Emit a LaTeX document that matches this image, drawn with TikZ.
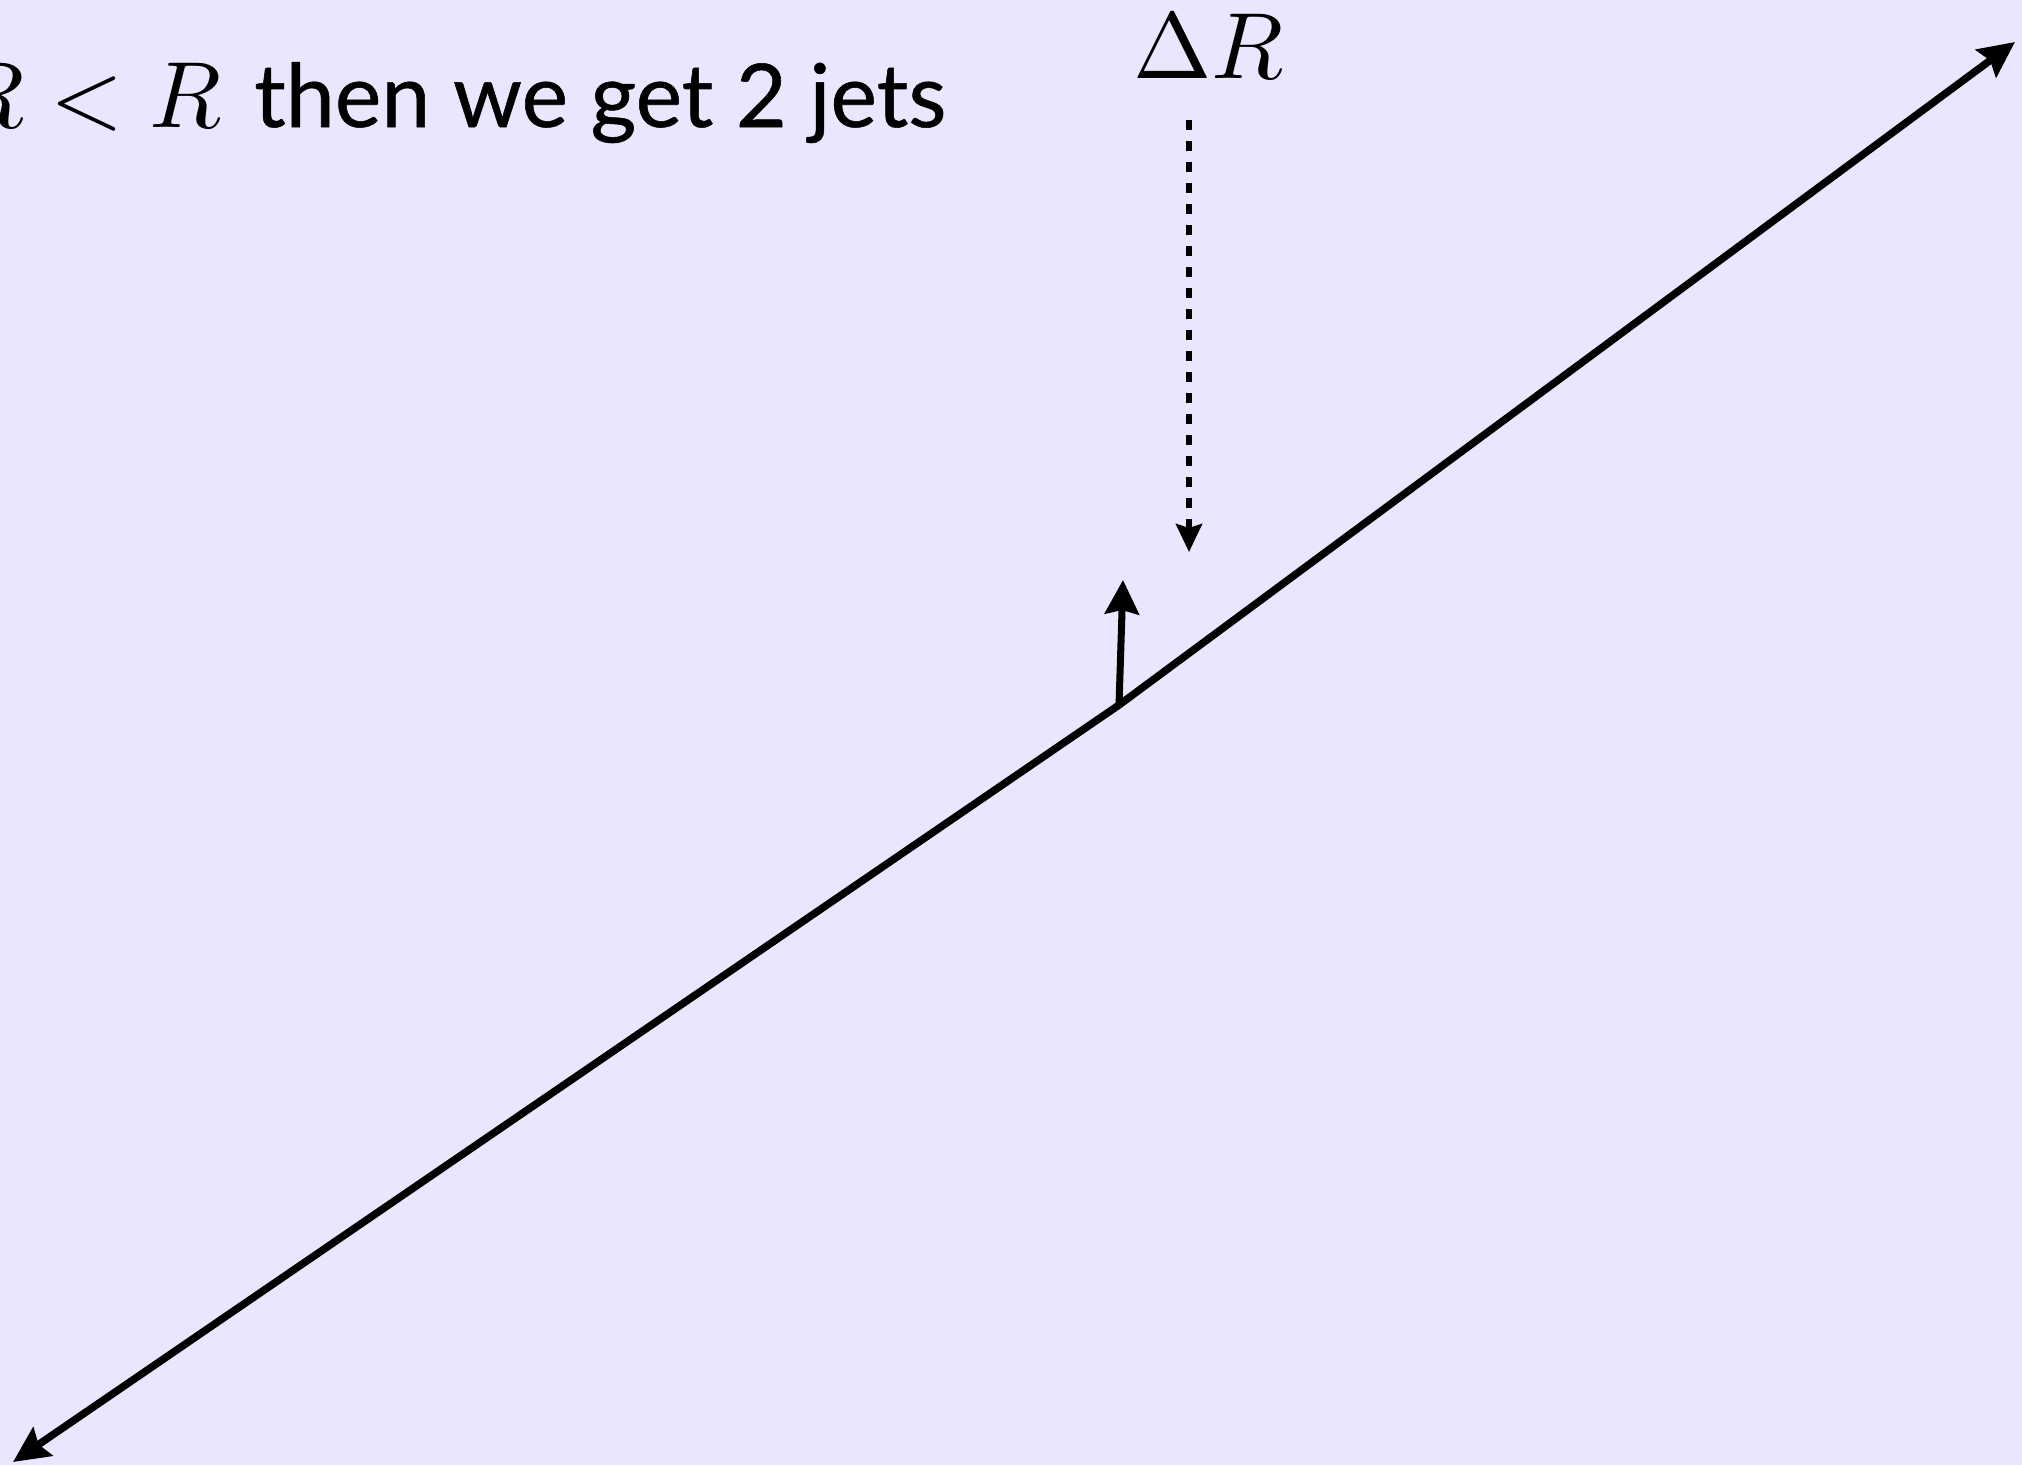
\documentclass[tikz,border=0pt]{standalone}
\usepackage{graphicx}
\usepackage{fontspec}
\setmainfont{Lato}
\newfontfamily\jetfont{Lato}[FakeBold=0.6]
\usetikzlibrary{arrows.meta}
\definecolor{bg}{RGB}{233,231,253}
\newcommand{\bigmath}[1]{\scalebox{9.4}{\fontsize{10}{12}\selectfont$#1$}}
\begin{document}
\begin{tikzpicture}[x=1pt,y=-1pt,
  jet/.style={line width=7.5pt, -{Stealth[length=36pt,width=34pt,inset=5pt]}},
  smallarrow/.style={line width=7pt, -{Stealth[length=34pt,width=34pt,inset=4pt]}},
  dasharrow/.style={line width=5.5pt, dash pattern=on 10pt off 11pt, -{Stealth[length=28pt,width=26pt,inset=4pt]}},
  mathlbl/.style={inner sep=0pt},
  txtlbl/.style={inner sep=0pt, font=\jetfont\fontsize{88}{100}\selectfont}]
\useasboundingbox (0,0) rectangle (2022,1465);
\fill[bg] (0,0) rectangle (2022,1465);
\clip (0,0) rectangle (2022,1465);
\coordinate (J) at (1119,705);
\coordinate (TR) at (2015,42);
\coordinate (BL) at (13,1462);
\coordinate (S) at (1123,580);
\coordinate (D0) at (1189,120);
\coordinate (D1) at (1189,552);
\node[mathlbl, anchor=base west] (dr) at (1133,78) {\bigmath{\Delta R}};
\node[mathlbl, anchor=base east] (cond) at (222,127) {\bigmath{R<R}};
\node[txtlbl, anchor=base west] (txt) at (254,127) {then we get 2 jets};
\draw[jet] (J) -- (TR);
\draw[jet] (J) -- (BL);
\draw[smallarrow] (J) -- (S);
\draw[dasharrow] (D0) -- (D1);
\end{tikzpicture}
\end{document}
